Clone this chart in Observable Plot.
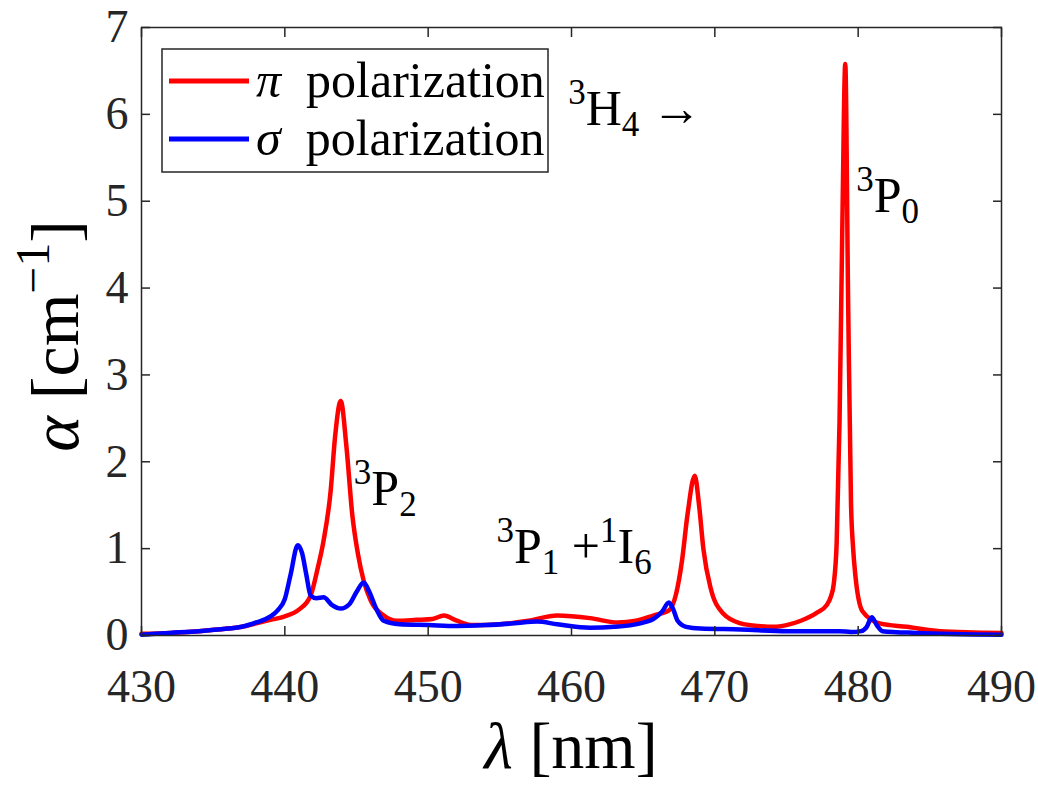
<!DOCTYPE html>
<html><head><meta charset="utf-8">
<script src="https://cdn.jsdelivr.net/npm/d3@7"></script>
<script src="https://cdn.jsdelivr.net/npm/@observablehq/plot@0.6"></script>
<style>html,body{margin:0;padding:0;background:#fff}svg{display:block}</style>
</head><body><div id="chart"></div>
<script>
// π polarization
const piWavelength = [430,432,434,436,437,438,439,440,441,441.8,442.3,442.7,443.2,443.5,443.9,444.3,444.7,445.1,445.5,446,446.9,447.8,449.2,450.3,451.1,452,453.1,455,457,459,461.3,463.2,464.5,465.7,466.8,467.3,467.7,468.1,468.6,468.9,469.2,469.7,470.6,471.8,473,474.1,475,476,477.1,477.8,478.1,478.3,478.5,478.7,478.9,479.1,479.3,479.5,479.65,479.8,480.3,481.5,483.4,485.7,490];
const piAbsorption = [0.02,0.03,0.05,0.08,0.10,0.14,0.18,0.22,0.30,0.46,0.78,1.09,1.67,2.28,2.70,2.17,1.40,0.94,0.63,0.40,0.23,0.17,0.18,0.19,0.23,0.17,0.12,0.13,0.17,0.23,0.20,0.15,0.17,0.23,0.29,0.48,0.85,1.40,1.84,1.50,1.00,0.55,0.25,0.14,0.11,0.10,0.12,0.17,0.26,0.35,0.45,0.60,1.07,2.46,4.77,6.58,3.85,1.53,1.00,0.70,0.28,0.14,0.10,0.05,0.03];
// σ polarization
const sigmaWavelength = [430,432,434,436,437,438,439,439.5,440,440.4,440.9,441.2,441.5,441.8,442.2,442.7,443.3,443.9,444.5,445,445.5,445.9,446.4,446.9,448,450,452,454,456,457.6,459,461.3,463,464.8,465.8,466.3,466.8,467.1,467.4,468,469,471.8,475,478.7,479.5,480.2,480.6,480.95,481.3,481.7,484,490];
const sigmaAbsorption = [0.01,0.03,0.05,0.08,0.10,0.15,0.22,0.29,0.42,0.70,1.04,0.95,0.70,0.46,0.43,0.44,0.35,0.31,0.36,0.50,0.61,0.50,0.30,0.17,0.13,0.12,0.11,0.12,0.14,0.16,0.13,0.09,0.10,0.14,0.20,0.27,0.38,0.30,0.17,0.10,0.08,0.07,0.05,0.05,0.04,0.05,0.10,0.21,0.12,0.05,0.03,0.01];

const seriesSymbols = ["π", "σ"];
const seriesNames = ["π polarization", "σ polarization"];
const seriesColors = ["#ff0000", "#0000ff"];
const xTicks = [430, 440, 450, 460, 470, 480, 490];
const yTicks = [0, 1, 2, 3, 4, 5, 6, 7];

const annotations = [
  {x: 459.8, y: 5.87, parts: [{t: "3", s: "sup"}, {t: "H"}, {t: "4", s: "sub"}, {t: " →"}]},
  {x: 479.9, y: 4.87, parts: [{t: "3", s: "sup"}, {t: "P"}, {t: "0", s: "sub"}]},
  {x: 444.85, y: 1.50, parts: [{t: "3", s: "sup"}, {t: "P"}, {t: "2", s: "sub"}]},
  {x: 454.8, y: 0.83, parts: [{t: "3", s: "sup"}, {t: "P"}, {t: "1", s: "sub"}, {t: " +"}, {t: "1", s: "sup"}, {t: "I"}, {t: "6", s: "sub"}]}
];

const data = [
  ...piWavelength.map((x, i) => ({series: seriesNames[0], x, y: piAbsorption[i]})),
  ...sigmaWavelength.map((x, i) => ({series: seriesNames[1], x, y: sigmaAbsorption[i]}))
];

const font = "Liberation Serif, DejaVu Serif, serif";
const axisColor = "#262626";

const plot = Plot.plot({
  width: 1038, height: 788,
  marginLeft: 141, marginRight: 37, marginTop: 27, marginBottom: 153,
  style: {fontFamily: font, background: "white", color: axisColor},
  x: {domain: [430, 490]},
  y: {domain: [0, 7]},
  color: {domain: seriesNames, range: seriesColors},
  marks: [
    Plot.line(data, {x: "x", y: "y", stroke: "series", strokeWidth: 4.5, curve: "monotone-x"}),
    Plot.frame({stroke: axisColor, strokeWidth: 1.5}),
    Plot.axisX(xTicks, {anchor: "bottom", tickSize: 0, tickPadding: 34, fontSize: 46, fill: axisColor, tickFormat: d => String(d), label: null}),
    Plot.axisX(xTicks, {anchor: "bottom", tickSize: 9, dy: -9, fill: "none", stroke: axisColor, strokeWidth: 1.5, label: null}),
    Plot.axisX(xTicks, {anchor: "top", tickSize: 9, dy: 9, fill: "none", stroke: axisColor, strokeWidth: 1.5, label: null}),
    Plot.axisY(yTicks, {anchor: "left", tickSize: 0, tickPadding: 13, fontSize: 46, fill: axisColor, tickFormat: d => String(d), label: null}),
    Plot.axisY(yTicks, {anchor: "left", tickSize: 9, dx: 9, fill: "none", stroke: axisColor, strokeWidth: 1.5, label: null}),
    Plot.axisY(yTicks, {anchor: "right", tickSize: 9, dx: -9, fill: "none", stroke: axisColor, strokeWidth: 1.5, label: null})
  ]
});

const svg = d3.select(plot);
svg.selectAll("text").style("font-family", font);
const sx = plot.scale("x"), sy = plot.scale("y");

function rich(parent, x, y, parts, size, anchor) {
  const t = parent.append("text").attr("x", x).attr("y", y)
    .attr("font-size", size).style("font-family", font)
    .attr("text-anchor", anchor || "start").attr("fill", "#000");
  let shift = 0;
  for (const p of parts) {
    const target = p.s === "sup" ? -0.42 * size : p.s === "sub" ? 0.22 * size : 0;
    const ts = t.append("tspan").attr("dy", target - shift).attr("font-size", p.s ? 0.7 * size : size).text(p.t);
    if (p.i) ts.attr("font-style", "italic");
    shift = target;
  }
  return t;
}

// annotations
for (const a of annotations) rich(svg, sx.apply(a.x), sy.apply(a.y), a.parts, 50);

// axis labels
rich(svg, (sx.apply(430) + sx.apply(490)) / 2, 768, [{t: "λ", i: true}, {t: " [nm]"}], 66, "middle");
const gy = svg.append("g").attr("transform", `translate(78,${(sy.apply(0) + sy.apply(7)) / 2 + 5}) rotate(-90)`);
rich(gy, 0, 0, [{t: "α", i: true}, {t: " [cm"}, {t: "−1", s: "sup"}, {t: "]"}], 68, "middle");

// legend
const lg = svg.append("g");
lg.append("rect").attr("x", 162).attr("y", 49).attr("width", 386).attr("height", 123)
  .attr("fill", "white").attr("stroke", axisColor).attr("stroke-width", 1.5);
seriesNames.forEach((name, i) => {
  const yy = 81 + i * 58;
  lg.append("line").attr("x1", 169).attr("x2", 249).attr("y1", yy).attr("y2", yy)
    .attr("stroke", seriesColors[i]).attr("stroke-width", 5);
  rich(lg, 256, yy + 16, [{t: seriesSymbols[i], i: true}, {t: "\u2002" + name.slice(seriesSymbols[i].length + 1)}], 50, "start");
});

document.getElementById("chart").appendChild(plot);
</script>
</body></html>
